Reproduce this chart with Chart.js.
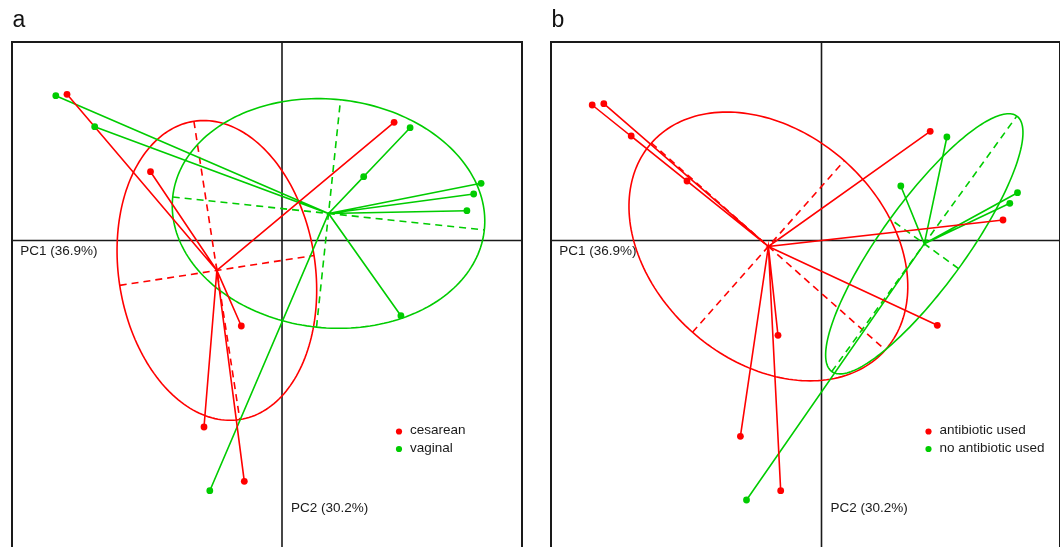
<!DOCTYPE html>
<html lang="en">
<head>
<meta charset="UTF-8">
<title>PCA by class</title>
<script src="https://cdn.jsdelivr.net/npm/chart.js@4.4.0/dist/chart.umd.min.js"></script>
<style>
    body { margin: 0; width: 1060px; height: 547px; overflow: hidden; background: #fff; }
    canvas { position: absolute; top: 0; }
</style>
</head>
<body>
<canvas id="chartA" style="left:0" width="536" height="547"></canvas>
<canvas id="chartB" style="left:536px" width="524" height="547"></canvas>
<script>
// axis titles, shared by both panels
const axisLabels = ['PC1 (36.9%)', 'PC2 (30.2%)'];

// panel a : delivery mode (0 = cesarean, 1 = vaginal)
const deliveryNames = ['cesarean', 'vaginal'];
const aPC1 = [-2.262, -2.150, -1.873, -1.315, 1.121, 1.281, 0.817, 1.991, 1.917, 1.849, 1.189, -0.407, -0.780, -0.377, -0.722];
const aPC2 = [1.448, 1.462, 1.138, 0.688, 1.182, 1.128, 0.638, 0.572, 0.465, 0.298, -0.752, -0.855, -1.865, -2.408, -2.502];
const aGroup = [1, 0, 1, 0, 0, 1, 1, 1, 1, 1, 1, 0, 0, 0, 1];

// panel b : antibiotics (0 = used, 1 = not used)
const antibioticNames = ['antibiotic used', 'no antibiotic used'];
const bPC1 = [-2.293, -2.177, -1.903, -1.345, 1.087, 1.254, 0.793, 1.960, 1.883, 1.815, 1.158, -0.435, -0.811, -0.408, -0.750];
const bPC2 = [1.355, 1.368, 1.045, 0.595, 1.092, 1.035, 0.545, 0.478, 0.372, 0.205, -0.848, -0.948, -1.958, -2.502, -2.595];
const bGroup = [0, 0, 0, 0, 0, 1, 1, 1, 1, 0, 0, 0, 0, 0, 1];

const groupColors = ['#ff0000', '#00cc00'];
const FONT = '"Liberation Sans", Arial, sans-serif';

// centroid + covariance ellipse of one class
function classStats(xs, ys, grp, k) {
    const px = [], py = [];
    grp.forEach((g, i) => { if (g === k) { px.push(xs[i]); py.push(ys[i]); } });
    const n = px.length;
    const mx = px.reduce((s, v) => s + v, 0) / n;
    const my = py.reduce((s, v) => s + v, 0) / n;
    let sxx = 0, syy = 0, sxy = 0;
    for (let i = 0; i < n; i++) {
        sxx += (px[i] - mx) ** 2;
        syy += (py[i] - my) ** 2;
        sxy += (px[i] - mx) * (py[i] - my);
    }
    sxx /= n; syy /= n; sxy /= n;
    const tr = (sxx + syy) / 2, d = Math.sqrt(((sxx - syy) / 2) ** 2 + sxy * sxy);
    return {
        mx, my,
        a: Math.sqrt(tr + d),
        b: Math.sqrt(Math.max(tr - d, 0)),
        ang: 0.5 * Math.atan2(2 * sxy, sxx - syy)
    };
}

// star lines: centroid -> point -> centroid -> point ...
function starData(xs, ys, grp, k) {
    const st = classStats(xs, ys, grp, k);
    const out = [];
    grp.forEach((g, i) => {
        if (g === k) { out.push({x: st.mx, y: st.my}); out.push({x: xs[i], y: ys[i]}); }
    });
    return out;
}

const pcaDecor = {
    id: 'pcaDecor',
    beforeDatasetsDraw(chart, args, o) {
        const {ctx, chartArea: ca, scales: {x, y}} = chart;
        const x0 = x.getPixelForValue(0), y0 = y.getPixelForValue(0);
        ctx.save();
        ctx.strokeStyle = '#1a1a1a';
        ctx.lineWidth = 2;
        ctx.strokeRect(ca.left, ca.top, ca.right - ca.left, ca.bottom - ca.top + 20);
        ctx.lineWidth = 1.6;
        ctx.beginPath();
        ctx.moveTo(x0, ca.top); ctx.lineTo(x0, ca.bottom + 5);
        ctx.moveTo(ca.left, y0); ctx.lineTo(ca.right, y0);
        ctx.stroke();

        // ellipses + dashed principal axes
        [0, 1].forEach(k => {
            const s = classStats(o.xs, o.ys, o.grp, k);
            const c = Math.cos(s.ang), sn = Math.sin(s.ang);
            const P = (u, v) => [x.getPixelForValue(s.mx + u * c - v * sn), y.getPixelForValue(s.my + u * sn + v * c)];
            ctx.strokeStyle = groupColors[k];
            ctx.lineWidth = 1.6;
            ctx.setLineDash([]);
            ctx.beginPath();
            for (let t = 0; t <= 200; t++) {
                const th = t / 200 * Math.PI * 2;
                const p = P(s.a * Math.cos(th), s.b * Math.sin(th));
                if (t === 0) ctx.moveTo(p[0], p[1]); else ctx.lineTo(p[0], p[1]);
            }
            ctx.stroke();
            ctx.setLineDash([7, 5]);
            ctx.beginPath();
            let p = P(-s.a, 0); ctx.moveTo(p[0], p[1]);
            p = P(s.a, 0); ctx.lineTo(p[0], p[1]);
            p = P(0, -s.b); ctx.moveTo(p[0], p[1]);
            p = P(0, s.b); ctx.lineTo(p[0], p[1]);
            ctx.stroke();
        });
        ctx.restore();
    },
    afterDraw(chart, args, o) {
        const {ctx, chartArea: ca, scales: {x, y}} = chart;
        const x0 = x.getPixelForValue(0), y0 = y.getPixelForValue(0);
        ctx.save();
        ctx.fillStyle = '#111';
        ctx.font = '23px ' + FONT;
        ctx.textBaseline = 'alphabetic';
        ctx.fillText(o.letter, ca.left + 0.5, 27);

        ctx.fillStyle = '#1a1a1a';
        ctx.font = '13.5px ' + FONT;
        ctx.textBaseline = 'middle';
        ctx.fillText(axisLabels[0], ca.left + 8.3, y0 + 11.2);
        ctx.fillText(axisLabels[1], x0 + 9, y0 + 267.5);

        // legend
        o.names.forEach((nm, k) => {
            const ly = y0 + 191 + k * 17.5;
            ctx.fillStyle = groupColors[k];
            ctx.beginPath();
            ctx.arc(x0 + o.legendDx, ly, 3.1, 0, Math.PI * 2);
            ctx.fill();
            ctx.fillStyle = '#1a1a1a';
            ctx.fillText(nm, x0 + o.legendDx + 11, ly - 1);
        });
        ctx.restore();
    }
};

function makePanel(id, xs, ys, grp, names, pad, xRange, letter, legendDx) {
    const datasets = [];
    [0, 1].forEach(k => {
        datasets.push({
            label: names[k],
            data: xs.map((v, i) => ({x: v, y: ys[i]})).filter((p, i) => grp[i] === k),
            pointRadius: 3.4,
            pointBackgroundColor: groupColors[k],
            pointBorderWidth: 0,
            showLine: false
        });
    });
    [0, 1].forEach(k => {
        datasets.push({
            label: names[k] + ' star',
            data: starData(xs, ys, grp, k),
            showLine: true,
            borderColor: groupColors[k],
            borderWidth: 1.6,
            pointRadius: 0,
            tension: 0
        });
    });
    return new Chart(document.getElementById(id), {
        type: 'scatter',
        data: {datasets},
        options: {
            responsive: false,
            animation: false,
            layout: {padding: pad, autoPadding: false},
            scales: {
                x: {type: 'linear', min: xRange[0], max: xRange[1], display: false},
                y: {type: 'linear', min: -3.065, max: 1.985, display: false}
            },
            plugins: {
                legend: {display: false},
                tooltip: {enabled: false},
                pcaDecor: {xs, ys, grp, names, letter, legendDx}
            }
        },
        plugins: [pcaDecor]
    });
}

makePanel('chartA', aPC1, aPC2, aGroup, deliveryNames,
    {left: 12, top: 42, right: 14, bottom: 0}, [-2.70, 2.40], 'a', 117);
makePanel('chartB', bPC1, bPC2, bGroup, antibioticNames,
    {left: 15, top: 42, right: 0, bottom: 0}, [-2.705, 2.385], 'b', 107);
</script>
</body>
</html>
